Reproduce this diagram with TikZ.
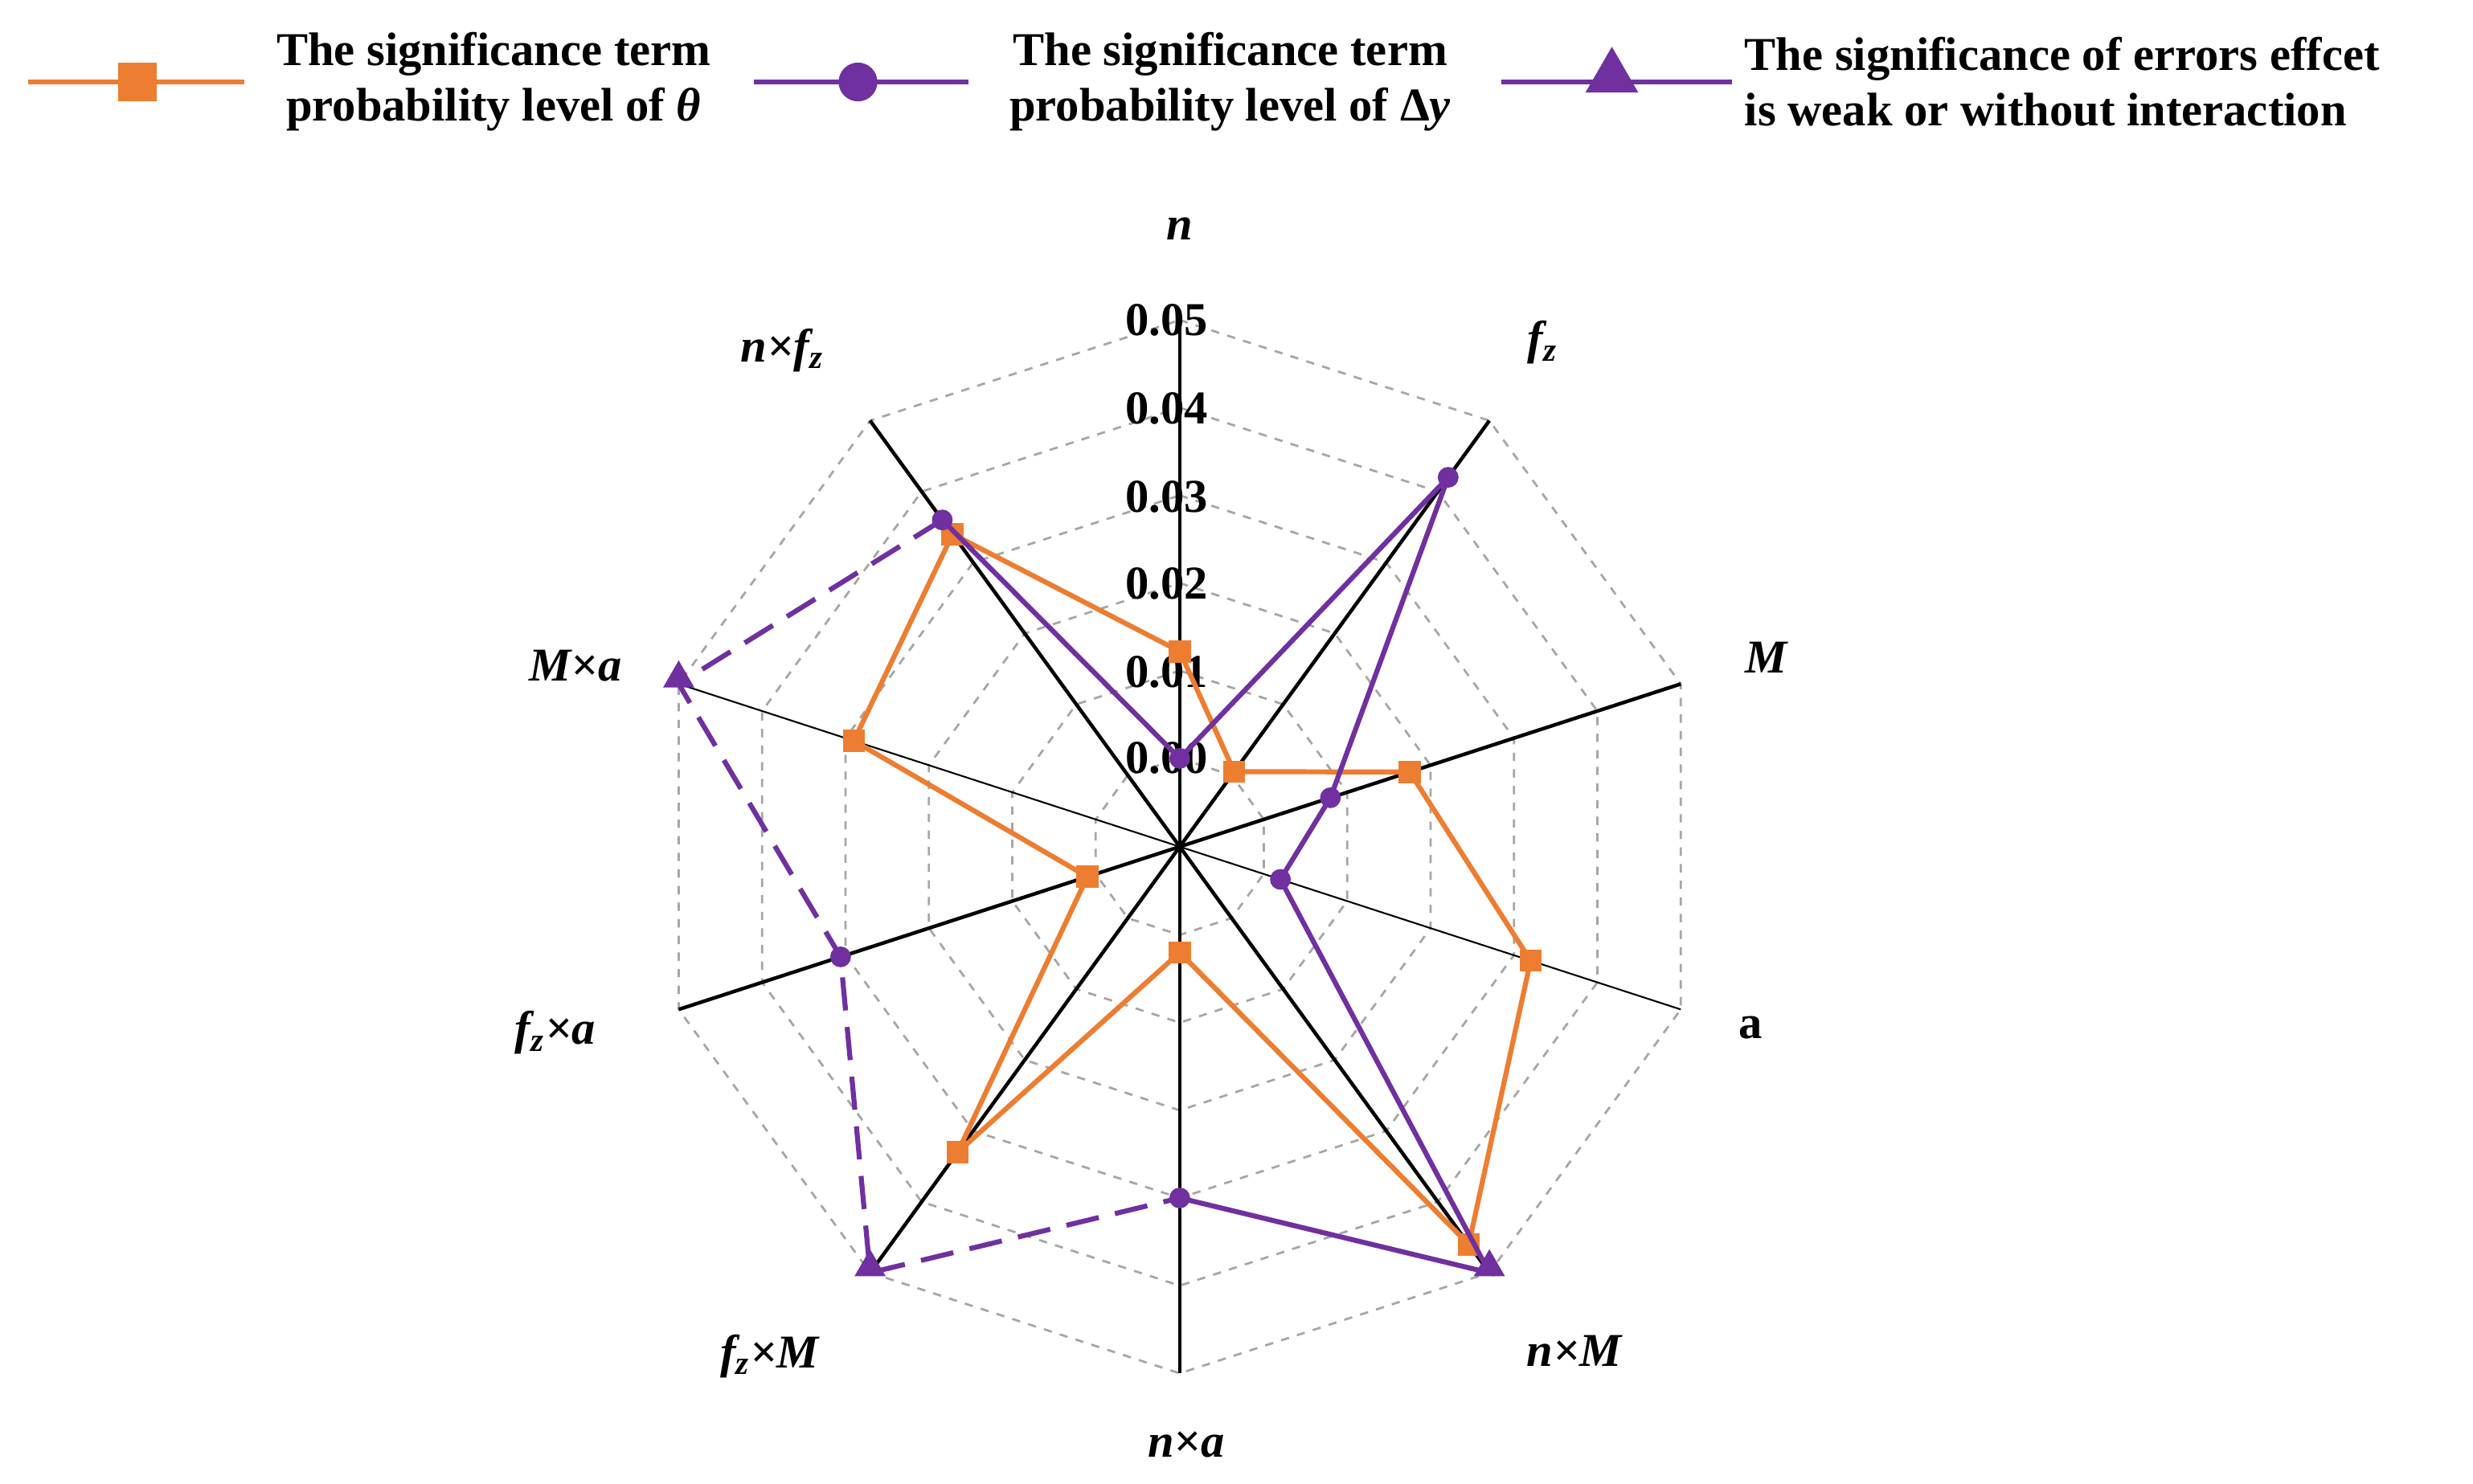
\documentclass[tikz,border=0pt]{standalone}
\usepackage{fontspec}
\setmainfont{Liberation Serif}
\usetikzlibrary{shapes.geometric}
\definecolor{org}{HTML}{ED7D31}
\definecolor{pur}{HTML}{7030A0}
\begin{document}
\begin{tikzpicture}[x=0.02cm,y=0.02cm,
  grid/.style={gray!70,dashed,line width=0.8pt},
  oline/.style={org,line width=1.8pt},
  pline/.style={pur,line width=1.8pt},
  sq/.style={fill=org,draw=none,minimum size=8pt,inner sep=0pt,rectangle},
  ci/.style={fill=pur,draw=none,minimum size=7.5pt,inner sep=0pt,circle},
  tri/.style={fill=pur,draw=none,regular polygon,regular polygon sides=3,minimum size=13pt,inner sep=0pt},
  lab/.style={font=\fontsize{17}{20}\selectfont\bfseries\itshape},
  tick/.style={font=\fontsize{17}{20}\selectfont\bfseries,anchor=east},
  leg/.style={font=\fontsize{17}{20}\selectfont\bfseries,align=center}]
\useasboundingbox (0,0) rectangle (1568,941);
% legend
\draw[oline] (18,889) -- (155,889); \node[sq,minimum size=14pt] (l1) at (87,889) {};
\node[leg] (t1) at (313,889) {The significance term\\probability level of \textit{θ}};
\draw[pline] (478,889) -- (614,889); \node[ci,minimum size=14pt] (l2) at (544,889) {};
\node[leg] (t2) at (780,889) {The significance term\\probability level of Δ\textit{y}};
\draw[pline] (952,889) -- (1098,889);
\node[tri,minimum size=22pt] (l3) at (1022,892) {};
\node[leg,align=left,anchor=west] (t3) at (1100,889) {The significance of errors effcet\\is weak or without interaction};
\begin{scope}[shift={(748,404)}]
\coordinate (O) at (0,0);
\foreach \r in {56,111.6,167.2,222.8,278.4,334}{
  \draw[grid] (90:\r) \foreach \k in {1,...,9}{ -- ({90-36*\k}:\r)} -- cycle;}
\foreach \k in {0,...,9}{
  \ifnum\k=3 \def\lw{0.6pt}\else\ifnum\k=8 \def\lw{0.6pt}\else\def\lw{1.3pt}\fi\fi
  \draw[black,line width=\lw] (O) -- ({90-36*\k}:334);}
\foreach \v/\y in {0.05/334,0.04/278,0.03/222,0.02/167,0.01/111,0.00/56}
  \node[tick] (tk\y) at (24,\y) {\v};
% axis labels
\node[lab] (Ln) at (0,392) {n};
\node[lab] (Lfz) at (230,320) {f\textsubscript{z}};
\node[lab] (LM) at (372,120) {M};
\node[font=\fontsize{17}{20}\selectfont\bfseries] (La) at (362,-115) {a};
\node[lab] (LnM) at (250,-320) {n×M};
\node[lab] (Lna) at (4,-379) {n×a};
\node[lab] (LfM) at (-260,-323) {f\textsubscript{z}×M};
\node[lab] (Lfa) at (-396,-118) {f\textsubscript{z}×a};
\node[lab] (LMa) at (-383,115) {M×a};
\node[lab] (Lnf) at (-252,315) {n×f\textsubscript{z}};
% orange data
\foreach \i/\v in {0/0.0122,1/0.0005,2/0.0175,3/0.032,4/0.046,5/0.002,6/0.033,7/0.001,8/0.029,9/0.034}
  \coordinate (o\i) at ({90-36*\i}:{56+5560*\v});
\draw[oline] (o0)--(o1)--(o2)--(o3)--(o4)--(o5)--(o6)--(o7)--(o8)--(o9)--cycle;
\foreach \i in {0,...,9} \node[sq] (os\i) at (o\i) {};
% purple data
\foreach \i/\v in {0/0,1/0.042,2/0.008,3/0.002,4/0.05,5/0.030,6/0.05,7/0.0306,8/0.05,9/0.036}
  \coordinate (p\i) at ({90-36*\i}:{56+5560*\v});
\draw[pline] (p5)--(p4)--(p3)--(p2)--(p1)--(p0)--(p9);
\draw[pline,dash pattern=on 12pt off 6pt] (p9)--(p8)--(p7)--(p6)--(p5);
\foreach \i in {0,1,2,3,5,7,9} \node[ci] (pc\i) at (p\i) {};
\foreach \i in {4,6,8} \node[tri,yshift=2pt] (pt\i) at (p\i) {};
\end{scope}
\end{tikzpicture}
\end{document}
